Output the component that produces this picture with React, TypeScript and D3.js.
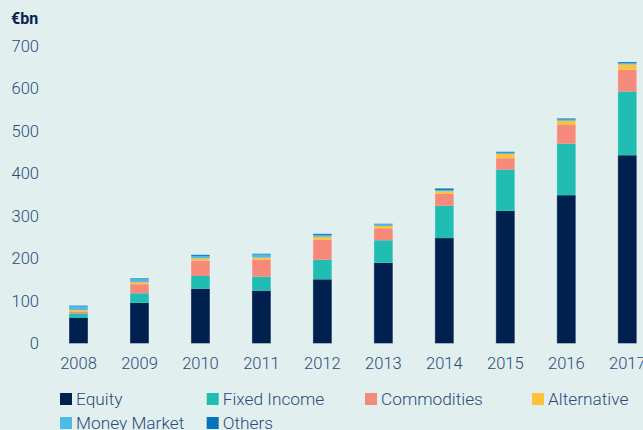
import React from "react";
import * as d3 from "d3";

const years = ["2008", "2009", "2010", "2011", "2012", "2013", "2014", "2015", "2016", "2017"];
const equity = [60, 95.6, 128.5, 124.5, 151, 190, 248, 312, 349, 443];
const fixedIncome = [10.8, 22.6, 30.5, 33, 46, 53, 76, 97, 121, 150];
const commodities = [4.7, 21.4, 36, 40, 47, 28, 28, 27, 44, 51];
const alternative = [3.3, 4.7, 5.4, 4.7, 7, 5.5, 6.3, 10, 10, 12.5];
const moneyMarket = [8.5, 7, 5.6, 7, 4.2, 4, 3, 3, 3, 3];
const others = [2.3, 2.4, 3, 2.3, 3, 1.5, 4, 2.5, 3, 3];
const seriesNames = ["Equity", "Fixed Income", "Commodities", "Alternative", "Money Market", "Others"];
const yTicks = [0, 100, 200, 300, 400, 500, 600, 700];

const colors = ["#00204f", "#21bdb2", "#f58a7a", "#fec13b", "#4fb9e8", "#0574bc"];
const seriesValues = [equity, fixedIncome, commodities, alternative, moneyMarket, others];

const W = 643;
const H = 430;
const FONT = "Roboto, 'Noto Sans', sans-serif";
const TEXT = "#2c4a7b";

export default function App() {
  const rows = years.map((y, i) => {
    const r: any = { year: y };
    seriesNames.forEach((s, k) => (r[s] = seriesValues[k][i]));
    return r;
  });
  const stack = d3.stack().keys(seriesNames)(rows);
  const x = d3.scalePoint().domain(years).range([78.5, 627.3]);
  const y = d3.scaleLinear().domain([0, 700]).range([343.5, 46]);
  const bw = 19;

  const legendPos = [
    [60, 393],
    [206.7, 393],
    [365, 393],
    [532, 393],
    [60, 417],
    [206.7, 417],
  ];

  return (
    <svg width={W} height={H} style={{ position: "absolute", left: 0, top: 0, background: "#e1f0ef" }}>
      <rect x={0} y={0} width={W} height={H} fill="#e1f0ef" />
      <text x={11} y={24} fontFamily={FONT} fontWeight={700} fontSize={16} fill="#0b2150">€bn</text>
      {yTicks.map((t) => (
        <text key={t} x={39} y={y(t)} dy="0.36em" textAnchor="end" fontFamily={FONT} fontWeight={300} fontSize={16.5} fill={TEXT}>
          {t}
        </text>
      ))}
      {stack.map((s, k) => (
        <g key={s.key} fill={colors[k]}>
          {s.map((d: any, i: number) => (
            <rect
              key={i}
              x={(x(years[i]) as number) - bw / 2}
              y={y(d[1])}
              width={bw}
              height={Math.max(0, y(d[0]) - y(d[1]))}
            />
          ))}
        </g>
      ))}
      {years.map((yr) => (
        <rect key={"o" + yr} x={(x(yr) as number) - bw / 2} y={y(d3.sum(seriesValues, (v) => v[years.indexOf(yr)]))}
          width={bw} height={y(0) - y(d3.sum(seriesValues, (v) => v[years.indexOf(yr)]))}
          fill="none" stroke="#ffffff" strokeOpacity={0.35} strokeWidth={1} />
      ))}
      {years.map((yr) => (
        <text key={yr} x={x(yr) as number} y={369} textAnchor="middle" fontFamily={FONT} fontWeight={300} fontSize={16.5} fill={TEXT}>
          {yr}
        </text>
      ))}
      {seriesNames.map((s, k) => (
        <g key={s} transform={`translate(${legendPos[k][0]},${legendPos[k][1]})`}>
          <rect x={0} y={0} width={12} height={12} fill={colors[k]} />
          <text x={16} y={11.5} fontFamily={FONT} fontWeight={300} fontSize={17.3} fill={TEXT}>{s}</text>
        </g>
      ))}
    </svg>
  );
}
